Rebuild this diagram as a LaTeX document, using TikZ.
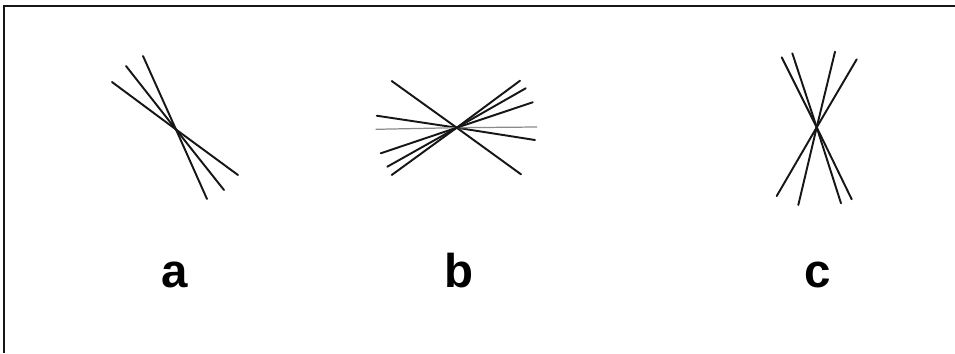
\documentclass[tikz,border=0pt]{standalone}
\usepackage{fontspec}
\setmainfont{Liberation Sans}
\usepackage{xcolor}
\usepackage{tikz}
\usetikzlibrary{positioning}
\definecolor{rayInk}{HTML}{161616}
\definecolor{rayGrey}{HTML}{8A8A8A}
\tikzset{
  rayline/.style={draw=rayInk, line width=1.1pt, line cap=round},
  faintray/.style={draw=rayGrey, line width=0.7pt, line cap=round},
  frameline/.style={draw=rayInk, line width=1.1pt},
  panellabel/.style={font=\fontsize{27}{30}\selectfont\bfseries, anchor=base, inner sep=0pt}
}

\begin{document}
\begin{tikzpicture}[x=0.02cm, y=-0.02cm]
  \useasboundingbox (0,0) rectangle (955,353);
  % frame
  \draw[frameline] (4,353) -- (4,6) -- (955,6);

  % fan a
  \coordinate (ca) at (176,129.5);
  \draw[rayline] (112,82) -- (ca) -- (238,175);
  \draw[rayline] (126,66) -- (ca) -- (224,190);
  \draw[rayline] (143,56) -- (ca) -- (207,199);

  % fan b
  \coordinate (cb) at (456.7,127.7);
  \draw[rayline] (391.7,81) -- (cb) -- (521,174.3);
  \draw[rayline] (376.7,115.7) -- (cb) -- (535,140);
  \draw[faintray] (376,129.3) -- (cb) -- (536.7,127);
  \draw[rayline] (380.7,153.3) -- (cb) -- (532.7,102.3);
  \draw[rayline] (387.3,166.7) -- (cb) -- (525.7,88.3);
  \draw[rayline] (391.7,175) -- (cb) -- (520,80.7);

  % fan c
  \coordinate (cc) at (816.7,127.3);
  \draw[rayline] (781.7,57.3) -- (cc) -- (851.7,199.3);
  \draw[rayline] (792.3,53.3) -- (cc) -- (841,203.3);
  \draw[rayline] (835,51.7) -- (cc) -- (798.3,205);
  \draw[rayline] (856.7,59.3) -- (cc) -- (776.7,196);

  % labels
  \node[panellabel] (la) at (175,287) {a};
  \node[panellabel] (lb) at (459,287) {b};
  \node[panellabel] (lc) at (818,287) {c};
\end{tikzpicture}
\end{document}
